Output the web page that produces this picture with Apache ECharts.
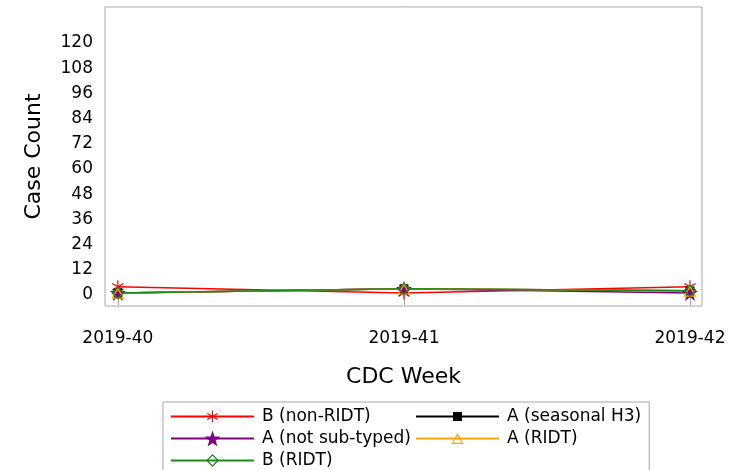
<!DOCTYPE html>
<html>
<head>
<meta charset="utf-8">
<script src="https://cdn.jsdelivr.net/npm/echarts@6/dist/echarts.min.js"></script>
<style>
  html, body { margin: 0; padding: 0; background: #fff; }
  #chart { width: 738px; height: 470px; }
</style>
</head>
<body>
<div id="chart"></div>
<script>
// 数据
const weeks = ['2019-40', '2019-41', '2019-42']
const yTicks = [0, 12, 24, 36, 48, 60, 72, 84, 96, 108, 120]

const bNonRidt = [4, 1, 4]
const aSeasonalH3 = [1, 3, 2]
const aNotSubtyped = [1, 3, 1]
const aRidt = [1, 3, 2]
const bRidt = [1, 3, 2]

const FONT = 'DejaVu Sans'

// 符号 (legend draws all symbols at one size, so the paths carry some empty padding)
const asteriskSym = 'path://M-13.3,-13.3 M13.3,13.3 ' +
  'M-0.9,-10 L0.9,-10 L0.9,10 L-0.9,10 Z ' +
  'M-9.11,-4.22 L-8.21,-5.78 L9.11,4.22 L8.21,5.78 Z ' +
  'M-8.21,5.78 L-9.11,4.22 L8.21,-5.78 L9.11,-4.22 Z'
const squareSym = 'path://M-8.9,-8.9 M8.9,8.9 M-5,-5 L5,-5 L5,5 L-5,5 Z'
const starSym = 'path://M0,-10 L2.35,-3.24 L9.51,-3.09 L3.8,1.24 L5.88,8.09 L0,4 L-5.88,8.09 L-3.8,1.24 L-9.51,-3.09 L-2.35,-3.24 Z'
const triangleSym = 'path://M-13.3,-14.3 M13.3,12.3 M0,-10 L10,8 L-10,8 Z M0,-5.6 L-6.9,6.1 L6.9,6.1 Z'
const diamondSym = 'path://M-12.3,-12.3 M12.3,12.3 M0,-10 L10,0 L0,10 L-10,0 Z M0,-7.2 L-7.2,0 L0,7.2 L7.2,0 Z'

const toPoints = arr => arr.map((v, i) => [i, v])

const seriesDefs = [
  { name: 'B (non-RIDT)', data: bNonRidt, color: '#ff0000', symbol: asteriskSym, size: 17.3 },
  { name: 'A (seasonal H3)', data: aSeasonalH3, color: '#000000', symbol: squareSym, size: 16 },
  { name: 'A (not sub-typed)', data: aNotSubtyped, color: '#800080', symbol: starSym, size: 16 },
  { name: 'A (RIDT)', data: aRidt, color: '#ffa500', symbol: triangleSym, size: 17.3 },
  { name: 'B (RIDT)', data: bRidt, color: '#1a8c1a', symbol: diamondSym, size: 16 }
]

const chart = echarts.init(document.getElementById('chart'))

const option = {
  backgroundColor: '#fff',
  animation: false,
  textStyle: { fontFamily: FONT },
  grid: {
    left: 105,
    top: 7,
    width: 597,
    height: 299,
    show: true,
    borderColor: '#a8a8a8',
    borderWidth: 1
  },
  xAxis: {
    type: 'value',
    min: -0.045,
    max: 2.042,
    name: 'CDC Week',
    nameLocation: 'middle',
    nameGap: 60,
    nameTextStyle: { fontSize: 22, color: '#000', fontFamily: FONT },
    axisLine: { show: false },
    axisTick: {
      show: true,
      customValues: [0, 1, 2],
      length: 10,
      lineStyle: { color: '#a8a8a8' }
    },
    axisLabel: {
      customValues: [0, 1, 2],
      formatter: v => weeks[v],
      fontSize: 17,
      color: '#000',
      margin: 24,
      fontFamily: FONT
    },
    splitLine: { show: false }
  },
  yAxis: {
    type: 'value',
    min: -5.2,
    max: 137.1,
    name: 'Case Count',
    nameLocation: 'middle',
    nameRotate: 90,
    nameGap: 60,
    nameTextStyle: { fontSize: 22, color: '#000', fontFamily: FONT },
    axisLine: { show: false },
    axisTick: { show: false },
    axisLabel: {
      customValues: yTicks,
      fontSize: 17,
      color: '#000',
      margin: 12,
      fontFamily: FONT
    },
    splitLine: { show: false }
  },
  legend: {
    left: 163,
    top: 402,
    width: 480,
    orient: 'horizontal',
    padding: [5, 8, 5, 7],
    borderColor: '#a8a8a8',
    borderWidth: 1,
    itemWidth: 83,
    itemHeight: 20,
    itemGap: 3,
    textStyle: {
      fontSize: 17,
      color: '#000',
      fontFamily: FONT,
      lineHeight: 19,
      padding: [0, 0, 0, 3]
    },
    data: seriesDefs.map((s, i) => (
      i % 2 === 0
        ? { name: s.name, textStyle: { width: 150 } }
        : { name: s.name }
    ))
  },
  series: seriesDefs.map(s => ({
    name: s.name,
    type: 'line',
    data: toPoints(s.data),
    symbol: s.symbol,
    symbolSize: s.size,
    showSymbol: true,
    color: s.color,
    itemStyle: { color: s.color, borderWidth: 0 },
    lineStyle: { color: s.color, width: 1.5 }
  }))
}

chart.setOption(option)
</script>
</body>
</html>
